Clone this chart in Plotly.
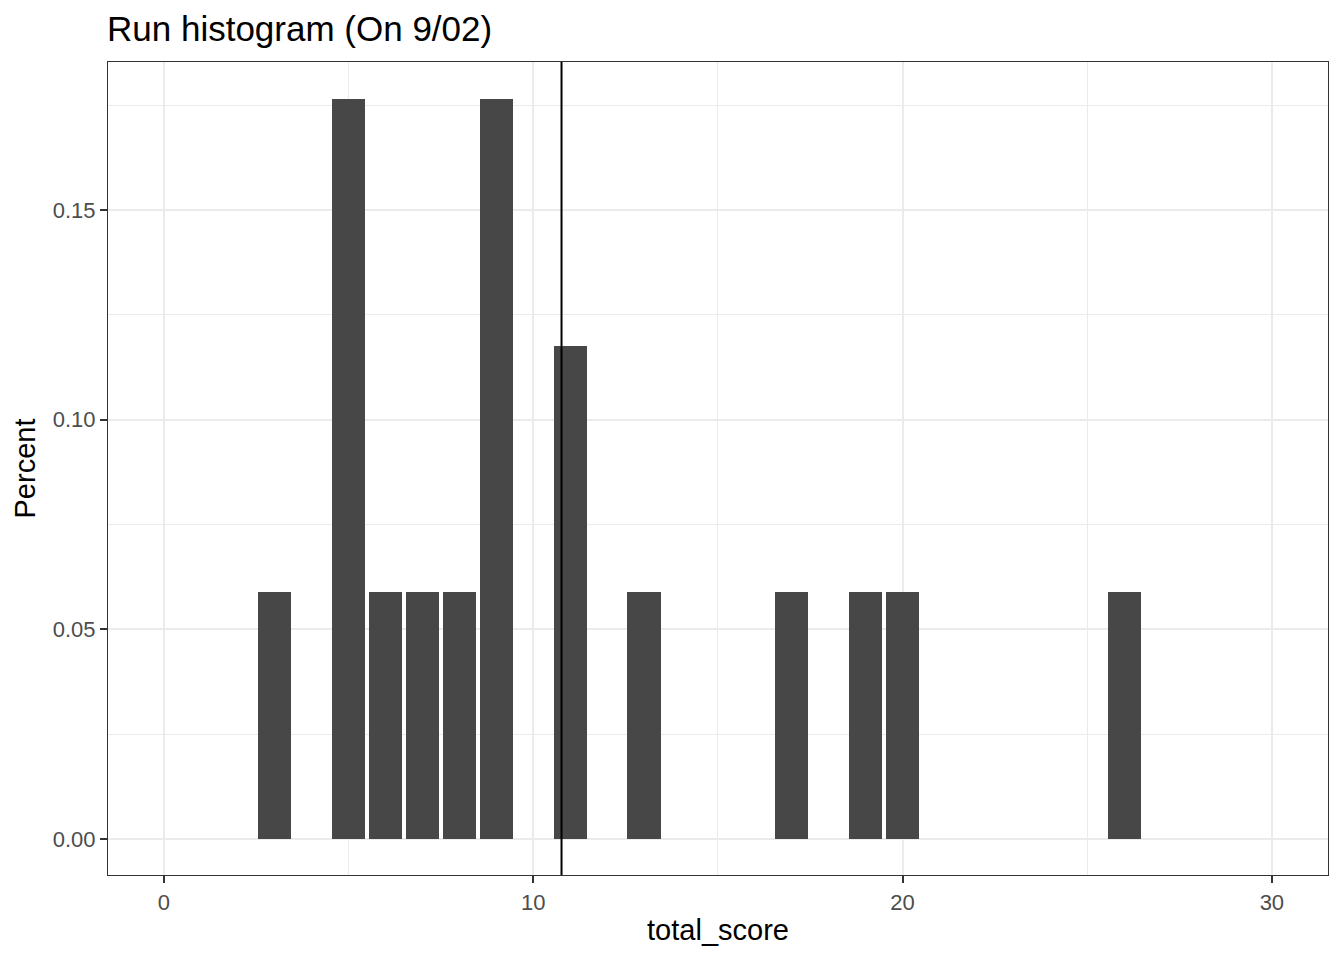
import plotly.graph_objects as go

total_score = [3, 5, 6, 7, 8, 9, 11, 13, 17, 19, 20, 26]
percent = [1/17, 3/17, 1/17, 1/17, 1/17, 3/17, 2/17, 1/17, 1/17, 1/17, 1/17, 1/17]
mean_score = 183 / 17

x_ticks = [0, 10, 20, 30]
y_ticks = [0.00, 0.05, 0.10, 0.15]
y_tick_labels = ["0.00", "0.05", "0.10", "0.15"]

fig = go.Figure()
fig.add_trace(go.Bar(x=total_score, y=percent, width=0.9,
                     marker=dict(color="#474747", line=dict(width=0)),
                     showlegend=False))
fig.add_shape(type="line", xref="x", yref="paper", x0=mean_score, x1=mean_score,
              y0=0, y1=1, line=dict(color="black", width=2))

fig.update_layout(
    width=1344, height=960,
    paper_bgcolor="white", plot_bgcolor="white",
    margin=dict(l=108, r=16, t=62, b=85),
    font=dict(family="Liberation Sans, Arial, sans-serif"),
    title=dict(text="Run histogram (On 9/02)", x=107/1344, xanchor="left",
               y=1 - 29/960, yanchor="middle",
               font=dict(size=35, color="black")),
    bargap=0,
)
fig.update_xaxes(range=[-1.516, 31.52], tickvals=x_ticks, ticktext=[str(v) for v in x_ticks],
                 showgrid=True, gridcolor="#EBEBEB", gridwidth=2,
                 minor=dict(dtick=5, tick0=0, showgrid=True, gridcolor="#EBEBEB", gridwidth=1.1),
                 zeroline=False, showline=True, linecolor="#333333", linewidth=1.2, mirror=True,
                 ticks="outside", ticklen=7, tickwidth=1.8, tickcolor="#333333",
                 tickfont=dict(size=22, color="#4D4D4D"),
                 title=dict(text="total_score", font=dict(size=29, color="black"), standoff=6))
fig.update_yaxes(range=[-0.00859, 0.1853], tickvals=y_ticks, ticktext=y_tick_labels,
                 showgrid=True, gridcolor="#EBEBEB", gridwidth=2,
                 minor=dict(dtick=0.025, tick0=0, showgrid=True, gridcolor="#EBEBEB", gridwidth=1.1),
                 zeroline=False, showline=True, linecolor="#333333", linewidth=1.2, mirror=True,
                 ticks="outside", ticklen=7, tickwidth=1.8, tickcolor="#333333",
                 tickfont=dict(size=22, color="#4D4D4D"),
                 title=dict(text="Percent", font=dict(size=29, color="black"), standoff=8))

fig.write_html("out.html", config={"displayModeBar": False},
               post_script="document.body.style.margin='0';")
